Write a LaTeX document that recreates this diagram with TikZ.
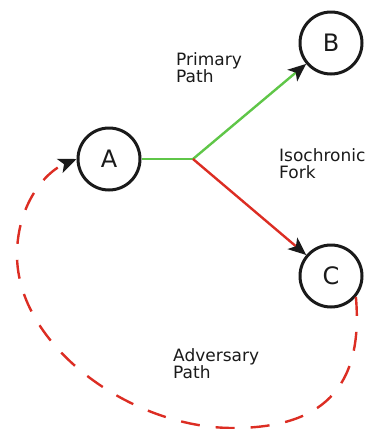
\documentclass[tikz,border=0pt]{standalone}
\usepackage{fontspec}
\setmainfont{DejaVu Sans}
\usetikzlibrary{arrows.meta}
\definecolor{forkgreen}{RGB}{95,198,72}
\definecolor{forkred}{RGB}{220,45,35}
\definecolor{inkgray}{RGB}{26,26,26}

\begin{document}
\begin{tikzpicture}[
      x=1pt, y=-1pt,
      state/.style={circle, draw=inkgray, line width=3pt, minimum size=62pt, inner sep=0pt, font=\fontsize{24}{24}\selectfont, text=inkgray},
      wire/.style={line width=2.4pt},
      tip/.style={-{Stealth[length=18pt,width=15pt,inset=4.5pt,color=inkgray]}},
      note/.style={anchor=north west, inner sep=0pt, align=left, font=\fontsize{17}{17}\selectfont, text=inkgray}
    ]
      \useasboundingbox (0,0) rectangle (370,429);

      % States
      \node[state] (A) at (109,159) {A};
      \node[state] (B) at (331,43) {B};
      \node[state] (C) at (331,276) {C};
      \coordinate (fork) at (193,159);

      % Fork: primary and racing branch
      \draw[wire,forkgreen] (A.east) -- (fork);
      \draw[wire,forkgreen,tip] (fork) -- (B);
      \draw[wire,forkred,tip] (fork) -- (C);

      % Adversary path back to A
      \draw[wire,forkred,tip,dash pattern=on 19pt off 16pt]
        (C.-40) .. controls (364,390) and (320,428) .. (233,428)
                .. controls (130,428) and (17,345) .. (17,255)
                .. controls (17,205) and (45,172) .. (A.west);

      % Labels
      \node[note] (primary) at (176,52) {Primary\\Path};
      \node[note] (isofork) at (279,148) {Isochronic\\Fork};
      \node[note] (adversary) at (173,348) {Adversary\\Path};
    \end{tikzpicture}
\end{document}
